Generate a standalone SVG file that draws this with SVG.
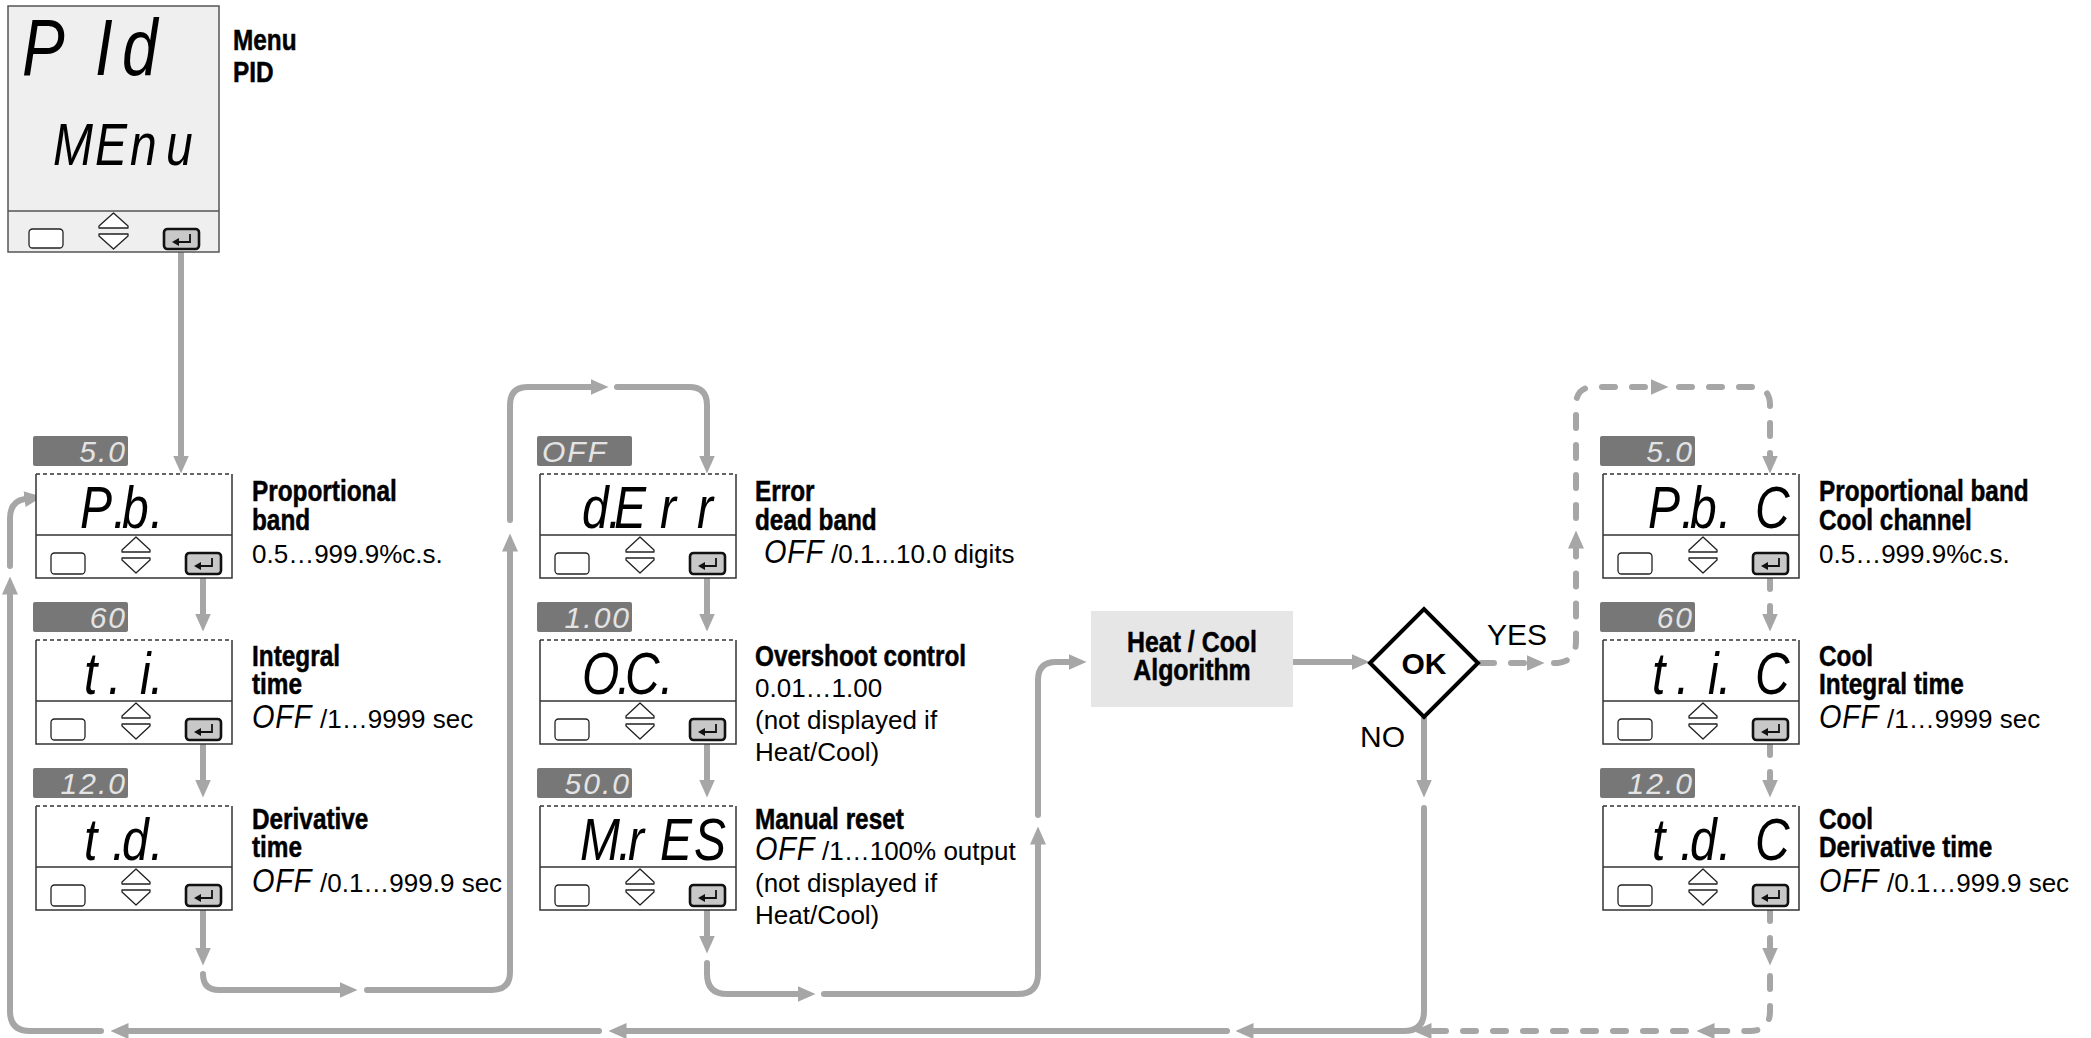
<svg xmlns="http://www.w3.org/2000/svg" xmlns:xlink="http://www.w3.org/1999/xlink" width="2091" height="1038" viewBox="0 0 2091 1038">
<style>
.ln{fill:none;stroke:#a6a6a6;stroke-width:6;stroke-linecap:round;stroke-linejoin:round}
.dl{fill:none;stroke:#a6a6a6;stroke-width:6;stroke-linecap:round;stroke-dasharray:13 17}
.b{font-family:"Liberation Sans",Arial,sans-serif;font-weight:bold;font-size:29px;fill:#000;stroke:#000;stroke-width:0.5}
.r{font-family:"Liberation Sans",Arial,sans-serif;font-size:26px;fill:#000}
.seg{font-family:"Liberation Sans",Arial,sans-serif;font-style:italic;font-size:60px;fill:#000}
.bt{font-family:"Liberation Sans",Arial,sans-serif;font-style:italic;font-size:30px;fill:#e4e4e4;letter-spacing:2px}
.off{font-family:"Liberation Sans",Arial,sans-serif;font-style:italic;font-size:34px;fill:#000;letter-spacing:1px}
.badge{fill:#777}
.yn{font-family:"Liberation Sans",Arial,sans-serif;font-size:30px;fill:#000}
.ok{font-family:"Liberation Sans",Arial,sans-serif;font-weight:bold;font-size:30px;fill:#000}
</style>
<defs>
<marker id="ah" viewBox="0 0 18 16" refX="0.5" refY="8" markerWidth="18" markerHeight="16" markerUnits="userSpaceOnUse" orient="auto">
<path d="M0,0 L18,8 L0,16 Z" fill="#a6a6a6"/>
</marker>
<g id="frame">
<rect x="0" y="0" width="196" height="104" fill="#fff"/>
<path d="M0,0 V104 H196 V0" fill="none" stroke="#333" stroke-width="1.5"/>
<path d="M0,0 H196" fill="none" stroke="#333" stroke-width="1.3" stroke-dasharray="4 3"/>
<path d="M0,61 H196" fill="none" stroke="#333" stroke-width="1.5"/>
</g>
<g id="btns">
<rect x="15" y="79" width="34" height="21" rx="3.5" fill="#fff" stroke="#222" stroke-width="1.3"/>
<path d="M86,78 V76 L100,63 L114,76 V78 Z" fill="#fff" stroke="#222" stroke-width="1.3" stroke-linejoin="round"/>
<path d="M86,84 V86 L100,99 L114,86 V84 Z" fill="#fff" stroke="#222" stroke-width="1.3" stroke-linejoin="round"/>
<rect x="150" y="79" width="35" height="21" rx="3.5" fill="#c8c8c8" stroke="#111" stroke-width="2.6"/>
<path d="M176,84 V92 H164" fill="none" stroke="#111" stroke-width="1.8"/>
<path d="M158,92 L165,88 L165,96 Z" fill="#111"/>
</g>
</defs>
<rect width="2091" height="1038" fill="#fff"/>

<g id="connectors">
<path class="ln" d="M181,250 V456" marker-end="url(#ah)"/>
<path class="ln" d="M203,576 V614" marker-end="url(#ah)"/>
<path class="ln" d="M203,742 V780" marker-end="url(#ah)"/>
<path class="ln" d="M203,908 V948" marker-end="url(#ah)"/>
<path class="ln" d="M203,974 Q203,990 219,990 H340" marker-end="url(#ah)"/>
<path class="ln" d="M367,990 H492 Q510,990 510,972 V551" marker-end="url(#ah)"/>
<path class="ln" d="M510,520 V405 Q510,387 528,387 H591" marker-end="url(#ah)"/>
<path class="ln" d="M617,387 H689 Q707,387 707,405 V456" marker-end="url(#ah)"/>
<path class="ln" d="M707,576 V614" marker-end="url(#ah)"/>
<path class="ln" d="M707,742 V780" marker-end="url(#ah)"/>
<path class="ln" d="M707,908 V936" marker-end="url(#ah)"/>
<path class="ln" d="M707,963 V974 Q707,994 727,994 H798" marker-end="url(#ah)"/>
<path class="ln" d="M824,994 H1018 Q1038,994 1038,974 V844" marker-end="url(#ah)"/>
<path class="ln" d="M1038,815 V680 Q1038,662 1056,662 H1069" marker-end="url(#ah)"/>
<path class="ln" d="M1294,662 H1352" marker-end="url(#ah)"/>
<path class="ln" d="M1424,718 V780" marker-end="url(#ah)"/>
<path class="ln" d="M1424,808 V1011 Q1424,1031 1404,1031 H1253" marker-end="url(#ah)"/>
<path class="ln" d="M1227,1031 H626" marker-end="url(#ah)"/>
<path class="ln" d="M599,1031 H128" marker-end="url(#ah)"/>
<path class="ln" d="M101,1031 H30 Q10,1031 10,1011 V594" marker-end="url(#ah)"/>
<path class="ln" d="M10,566 V519 Q10,501 25,499" marker-end="url(#ah)"/>
<path class="dl" d="M1481,663 H1527" marker-end="url(#ah)"/>
<path class="dl" d="M1554,663 Q1576,663 1576,641 V548" marker-end="url(#ah)"/>
<path class="dl" d="M1576,518 V405 Q1576,387 1594,387 H1651" marker-end="url(#ah)"/>
<path class="dl" d="M1679,387 H1752 Q1770,387 1770,405 V456" marker-end="url(#ah)"/>
<path class="dl" d="M1770,576 V614" marker-end="url(#ah)"/>
<path class="dl" d="M1770,742 V780" marker-end="url(#ah)"/>
<path class="dl" d="M1770,908 V948" marker-end="url(#ah)"/>
<path class="dl" d="M1770,976 V1011 Q1770,1031 1750,1031 H1714" marker-end="url(#ah)"/>
<path class="dl" d="M1686,1031 H1431" marker-end="url(#ah)"/>
<text class="yn" x="1487" y="645">YES</text>
<text class="yn" x="1360" y="747">NO</text>
</g>

<g id="node-pid">
<rect x="8" y="6" width="211" height="246" fill="#efefef" stroke="#555" stroke-width="1.5"/>
<path d="M8,211 H219" stroke="#555" stroke-width="1.5"/>
<text class="seg" style="font-size:80px" transform="translate(22 75) scale(.8 1)" x="0 91.25 125" y="0">PId</text>
<text class="seg" transform="translate(53 165) scale(.8 1)" x="0 52.5 96.25 141.25" y="0">MEnu</text>
<rect x="29" y="229" width="34" height="19" rx="3.5" fill="#fff" stroke="#222" stroke-width="1.3"/>
<path d="M99,228 V226 L113.5,213 L128,226 V228 Z" fill="#fff" stroke="#222" stroke-width="1.3" stroke-linejoin="round"/>
<path d="M99,234 V236 L113.5,249 L128,236 V234 Z" fill="#fff" stroke="#222" stroke-width="1.3" stroke-linejoin="round"/>
<rect x="164" y="229" width="35" height="20" rx="3.5" fill="#c8c8c8" stroke="#111" stroke-width="2.6"/>
<path d="M190,234 V242 H178" fill="none" stroke="#111" stroke-width="1.8"/>
<path d="M172,242 L179,238 L179,246 Z" fill="#111"/>
<text class="b" transform="translate(233 50) scale(.84 1)">Menu</text>
<text class="b" transform="translate(233 82) scale(.84 1)">PID</text>
</g>

<g id="node-pb">
<rect class="badge" x="33" y="436" width="95" height="30" rx="2"/>
<text class="bt" x="127" y="462" text-anchor="end">5.0</text>
<use xlink:href="#frame" x="36" y="474"/>
<use xlink:href="#btns" x="36" y="474"/>
<text class="seg" transform="translate(80 528) scale(.8 1)" x="0 41.25 52.5 87.5" y="0">P.b.</text>
<text class="b" transform="translate(252 501) scale(.84 1)">Proportional</text>
<text class="b" transform="translate(252 530) scale(.84 1)">band</text>
<text class="r" x="252" y="563">0.5…999.9%c.s.</text>
</g>

<g id="node-ti">
<rect class="badge" x="33" y="602" width="95" height="30" rx="2"/>
<text class="bt" x="127" y="628" text-anchor="end">60</text>
<use xlink:href="#frame" x="36" y="640"/>
<use xlink:href="#btns" x="36" y="640"/>
<text class="seg" transform="translate(84 694) scale(.8 1)" x="0 30 45 70 82.5" y="0">t. i.</text>
<text class="b" transform="translate(252 666) scale(.84 1)">Integral</text>
<text class="b" transform="translate(252 694) scale(.84 1)">time</text>
<text class="off" transform="translate(252 728) scale(.85 1)">OFF</text>
<text class="r" x="320" y="728">/1…9999 sec</text>
</g>

<g id="node-td">
<rect class="badge" x="33" y="768" width="95" height="30" rx="2"/>
<text class="bt" x="127" y="794" text-anchor="end">12.0</text>
<use xlink:href="#frame" x="36" y="806"/>
<use xlink:href="#btns" x="36" y="806"/>
<text class="seg" transform="translate(84 860) scale(.8 1)" x="0 35 47.5 82.5" y="0">t.d.</text>
<text class="b" transform="translate(252 829) scale(.84 1)">Derivative</text>
<text class="b" transform="translate(252 857) scale(.84 1)">time</text>
<text class="off" transform="translate(252 892) scale(.85 1)">OFF</text>
<text class="r" x="320" y="892">/0.1…999.9 sec</text>
</g>

<g id="node-derr">
<rect class="badge" x="537" y="436" width="95" height="30" rx="2"/>
<text class="bt" x="542" y="462">OFF</text>
<use xlink:href="#frame" x="540" y="474"/>
<use xlink:href="#btns" x="540" y="474"/>
<text class="seg" transform="translate(582 528) scale(.8 1)" x="0 32.5 40 97.5 143.75" y="0">d.Err</text>
<text class="b" transform="translate(755 501) scale(.84 1)">Error</text>
<text class="b" transform="translate(755 530) scale(.84 1)">dead band</text>
<text class="off" transform="translate(764 563) scale(.85 1)">OFF</text>
<text class="r" x="831" y="563">/0.1...10.0 digits</text>
</g>

<g id="node-oc">
<rect class="badge" x="537" y="602" width="95" height="30" rx="2"/>
<text class="bt" x="631" y="628" text-anchor="end">1.00</text>
<use xlink:href="#frame" x="540" y="640"/>
<use xlink:href="#btns" x="540" y="640"/>
<text class="seg" transform="translate(582 694) scale(.8 1)" x="0 43.75 53.75 97.5" y="0">O.C.</text>
<text class="b" transform="translate(755 666) scale(.84 1)">Overshoot control</text>
<text class="r" x="755" y="697">0.01…1.00</text>
<text class="r" x="755" y="729">(not displayed if</text>
<text class="r" x="755" y="761">Heat/Cool)</text>
</g>

<g id="node-mres">
<rect class="badge" x="537" y="768" width="95" height="30" rx="2"/>
<text class="bt" x="631" y="794" text-anchor="end">50.0</text>
<use xlink:href="#frame" x="540" y="806"/>
<use xlink:href="#btns" x="540" y="806"/>
<text class="seg" transform="translate(580 860) scale(.8 1)" x="0 47.5 60 100 142.5" y="0">M.rES</text>
<text class="b" transform="translate(755 829) scale(.84 1)">Manual reset</text>
<text class="off" transform="translate(755 860) scale(.85 1)">OFF</text>
<text class="r" x="822" y="860">/1…100% output</text>
<text class="r" x="755" y="892">(not displayed if</text>
<text class="r" x="755" y="924">Heat/Cool)</text>
</g>

<g id="node-heatcool">
<rect x="1091" y="611" width="202" height="96" fill="#e6e6e6"/>
<text class="b" style="font-size:30px" transform="translate(1192 652) scale(.83 1)" text-anchor="middle">Heat / Cool</text>
<text class="b" style="font-size:30px" transform="translate(1192 680) scale(.83 1)" text-anchor="middle">Algorithm</text>
</g>

<g id="node-ok">
<polygon points="1370,663 1424,609 1478,663 1424,717" fill="#fff" stroke="#000" stroke-width="4" stroke-linejoin="miter"/>
<text class="ok" x="1424" y="674" text-anchor="middle">OK</text>
</g>

<g id="node-pbc">
<rect class="badge" x="1600" y="436" width="95" height="30" rx="2"/>
<text class="bt" x="1694" y="462" text-anchor="end">5.0</text>
<use xlink:href="#frame" x="1603" y="474"/>
<use xlink:href="#btns" x="1603" y="474"/>
<text class="seg" transform="translate(1648 528) scale(.8 1)" x="0 41.25 52.5 87.5 102.5 133.75" y="0">P.b. C</text>
<text class="b" transform="translate(1819 501) scale(.84 1)">Proportional band</text>
<text class="b" transform="translate(1819 530) scale(.84 1)">Cool channel</text>
<text class="r" x="1819" y="563">0.5…999.9%c.s.</text>
</g>

<g id="node-tic">
<rect class="badge" x="1600" y="602" width="95" height="30" rx="2"/>
<text class="bt" x="1694" y="628" text-anchor="end">60</text>
<use xlink:href="#frame" x="1603" y="640"/>
<use xlink:href="#btns" x="1603" y="640"/>
<text class="seg" transform="translate(1652 694) scale(.8 1)" x="0 30 45 70 82.5 95 128.75" y="0">t. i. C</text>
<text class="b" transform="translate(1819 666) scale(.84 1)">Cool</text>
<text class="b" transform="translate(1819 694) scale(.84 1)">Integral time</text>
<text class="off" transform="translate(1819 728) scale(.85 1)">OFF</text>
<text class="r" x="1887" y="728">/1…9999 sec</text>
</g>

<g id="node-tdc">
<rect class="badge" x="1600" y="768" width="95" height="30" rx="2"/>
<text class="bt" x="1694" y="794" text-anchor="end">12.0</text>
<use xlink:href="#frame" x="1603" y="806"/>
<use xlink:href="#btns" x="1603" y="806"/>
<text class="seg" transform="translate(1652 860) scale(.8 1)" x="0 35 47.5 82.5 95 128.75" y="0">t.d. C</text>
<text class="b" transform="translate(1819 829) scale(.84 1)">Cool</text>
<text class="b" transform="translate(1819 857) scale(.84 1)">Derivative time</text>
<text class="off" transform="translate(1819 892) scale(.85 1)">OFF</text>
<text class="r" x="1887" y="892">/0.1…999.9 sec</text>
</g>
</svg>
